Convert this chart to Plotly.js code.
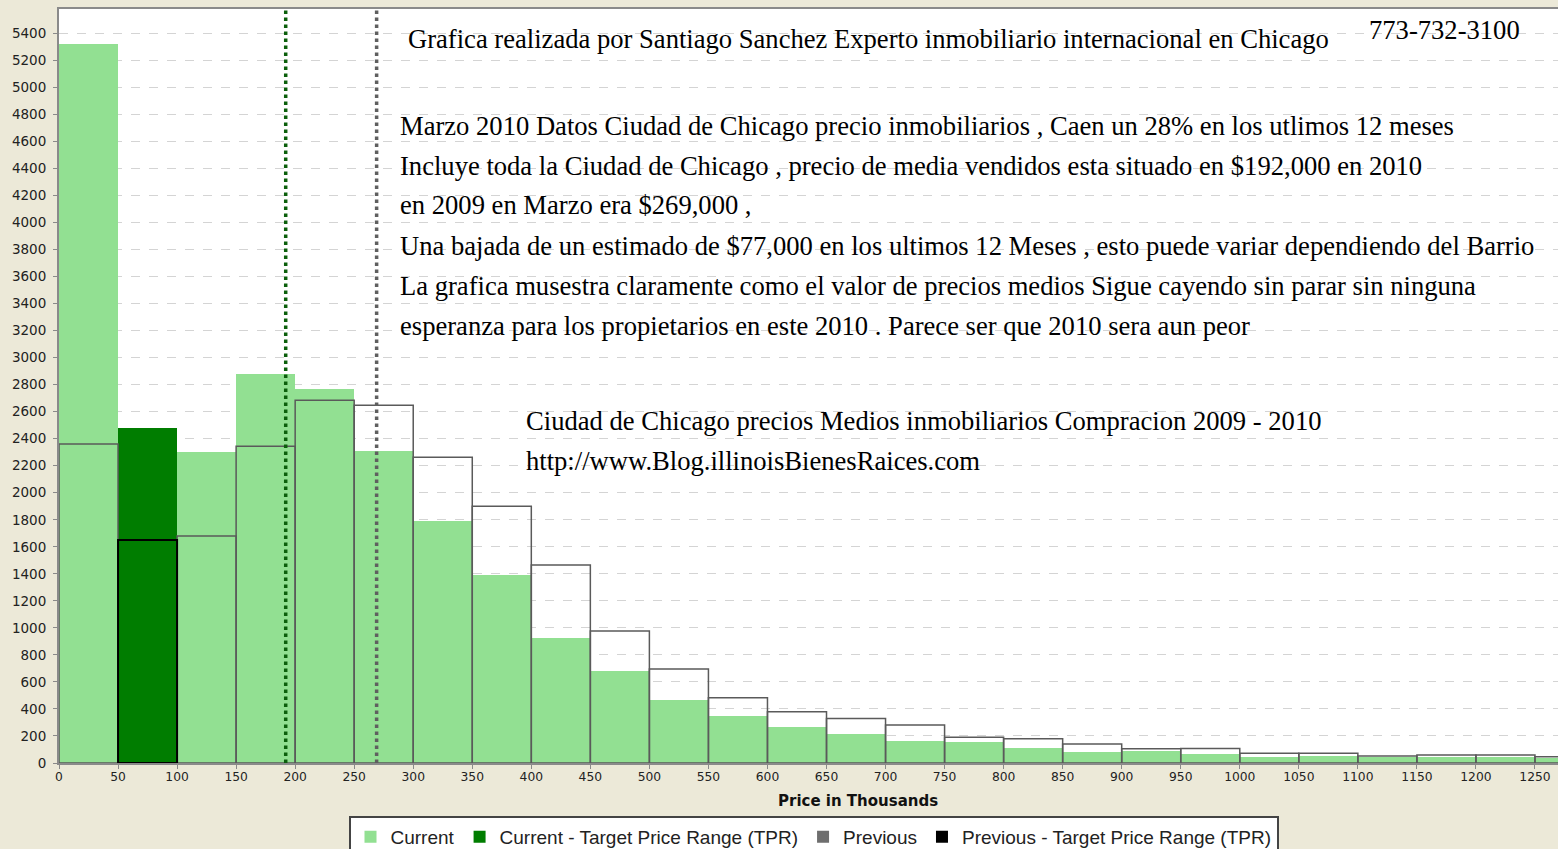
<!DOCTYPE html>
<html>
<head>
<meta charset="utf-8">
<script src="https://cdn.plot.ly/plotly-3.0.1.min.js"></script>
<style>
  html, body { margin: 0; padding: 0; background: #ECE9D8; }
  #chart { width: 1558px; height: 849px; }
</style>
</head>
<body>
<div id="chart"></div>
<script>
// ---------- DATA ----------
const binStart = [0, 50, 100, 150, 200, 250, 300, 350, 400, 450, 500, 550, 600,
                  650, 700, 750, 800, 850, 900, 950, 1000, 1050, 1100, 1150, 1200, 1250];
const binWidth = 50;
const current = [5320, null, 2300, 2880, 2770, 2310, 1790, 1390, 925, 680, 466, 348, 265,
                 213, 163, 154, 112, 85, 90, 67, 45, 52, 42, 44, 44, 37];
const previous = [2360, null, 1680, 2345, 2685, 2648, 2263, 1900, 1465, 976, 695, 483, 380,
                  330, 281, 191, 180, 140, 105, 107, 72, 72, 52, 59, 59, 47];
const tprBinStart = [50];
const currentTPR = [2480];
const previousTPR = [1650];
const medianCurrent = 192;
const medianPrevious = 269;

const seriesNames = ["Current", "Current - Target Price Range (TPR)", "Previous", "Previous - Target Price Range (TPR)"];
const xAxisTitle = "Price in Thousands";
const headerText = "Grafica realizada por Santiago Sanchez Experto inmobiliario internacional en Chicago";
const phoneText = "773-732-3100";
const noteLines = [
  "Marzo 2010 Datos Ciudad de Chicago precio inmobiliarios , Caen un 28% en los utlimos 12 meses",
  "Incluye toda la Ciudad de Chicago , precio de media vendidos esta situado en $192,000 en 2010",
  "en 2009 en Marzo era $269,000 ,",
  "Una bajada de un estimado de $77,000 en los ultimos 12 Meses , esto puede variar dependiendo del Barrio",
  "La grafica musestra claramente como el valor de precios medios Sigue cayendo sin parar sin ninguna",
  "esperanza para los propietarios en este 2010 . Parece ser que 2010 sera aun peor"
];
const subtitleLines = [
  "Ciudad de Chicago precios Medios inmobiliarios Compracion 2009 - 2010",
  "http://www.Blog.illinoisBienesRaices.com"
];

// ---------- STYLE ----------
const lightGreen = "rgb(146,224,146)";
const darkGreen = "rgb(0,125,0)";
const prevGray = "#5a5a5a";
const W = 1558, H = 849;
const M = {l: 59, r: 0, t: 9, b: 86, autoexpand: false};
const plotW = W - M.l - M.r, plotH = H - M.t - M.b;
const px = v => (v - M.l) / plotW;
const py = v => (H - M.b - v) / plotH;
const serif = {family: "Liberation Serif, Times New Roman, serif", size: 26.6, color: "#000"};

const traces = [
  {type: "bar", name: seriesNames[0], x: binStart, y: current, width: binWidth, offset: 0,
   marker: {color: lightGreen, line: {width: 0}}, hoverinfo: "x+y"},
  {type: "bar", name: seriesNames[1], x: tprBinStart, y: currentTPR, width: binWidth, offset: 0,
   marker: {color: darkGreen, line: {width: 0}}, hoverinfo: "x+y"},
  {type: "bar", name: seriesNames[2], x: binStart, y: previous, width: binWidth, offset: 0,
   marker: {color: "rgba(0,0,0,0)", line: {color: prevGray, width: 1.5}}, showlegend: false, hoverinfo: "x+y"},
  {type: "bar", name: seriesNames[3], x: tprBinStart, y: previousTPR, width: binWidth, offset: 0,
   marker: {color: "rgba(0,0,0,0)", line: {color: "#000", width: 2}}, showlegend: false, hoverinfo: "x+y"},
  // legend entries for the previous series (filled swatches, as in the legend)
  {type: "bar", name: seriesNames[2], x: [null], y: [null], marker: {color: "#6e6e6e"}, hoverinfo: "skip"},
  {type: "bar", name: seriesNames[3], x: [null], y: [null], marker: {color: "#000"}, hoverinfo: "skip"}
];

const annotations = [];
const addText = (text, xPix, yPix) => annotations.push({
  text: text, xref: "paper", yref: "paper", x: px(xPix), y: py(yPix),
  xanchor: "left", yanchor: "middle", showarrow: false, font: serif
});
addText(headerText, 406, 39.5);
addText(phoneText, 1367, 30);
noteLines.forEach((t, i) => addText(t, 398, 125.5 + 40 * i));
subtitleLines.forEach((t, i) => addText(t, 524, 421 + 40 * i));
annotations.push({
  text: "<b>" + xAxisTitle + "</b>", xref: "paper", yref: "paper",
  x: px(858), y: py(801), xanchor: "center", yanchor: "middle", showarrow: false,
  font: {family: "DejaVu Sans, Verdana, sans-serif", size: 15, color: "#111"}
});

const layout = {
  width: W, height: H,
  margin: M,
  paper_bgcolor: "#ECE9D8",
  plot_bgcolor: "#ffffff",
  barmode: "overlay",
  bargap: 0,
  showlegend: true,
  legend: {
    orientation: "h", x: px(813.5), xanchor: "center", y: py(816), yanchor: "top",
    bgcolor: "#ffffff", bordercolor: "#444", borderwidth: 2,
    font: {family: "Liberation Sans, Arial, sans-serif", size: 19, color: "#222"},
    traceorder: "normal"
  },
  xaxis: {
    range: [0, 1269.5], dtick: 50, tick0: 0, showgrid: false, zeroline: false,
    showline: true, linecolor: "#8a8a8a", linewidth: 2, mirror: true,
    ticks: "outside", ticklen: 4, tickcolor: "#8a8a8a", ticklabelstandoff: -3,
    tickfont: {family: "DejaVu Sans, Verdana, sans-serif", size: 12.3, color: "#222"}
  },
  yaxis: {
    range: [0, 5580], dtick: 200, tick0: 0, showgrid: true, gridcolor: "#d4d4d4",
    griddash: "dash", gridwidth: 1, zeroline: false,
    showline: true, linecolor: "#8a8a8a", linewidth: 2,
    ticks: "outside", ticklen: 4, tickcolor: "#8a8a8a", ticklabelstandoff: 4,
    tickfont: {family: "DejaVu Sans, Verdana, sans-serif", size: 13.5, color: "#222"}
  },
  shapes: [
    {type: "line", xref: "x", yref: "paper", x0: medianCurrent, x1: medianCurrent, y0: 0, y1: 1,
     line: {color: "#0b5f0b", width: 3.5, dash: "dot"}},
    {type: "line", xref: "x", yref: "paper", x0: medianPrevious, x1: medianPrevious, y0: 0, y1: 1,
     line: {color: "#5f5f5f", width: 3.5, dash: "dot"}}
  ],
  annotations: annotations
};

Plotly.newPlot("chart", traces, layout, {displayModeBar: false, staticPlot: true});
</script>
</body>
</html>
